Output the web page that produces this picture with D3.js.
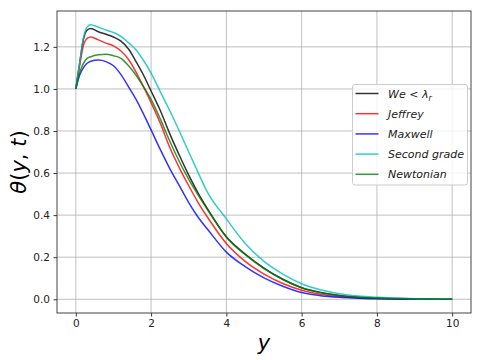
<!DOCTYPE html>
<html>
<head>
<meta charset="utf-8">
<script src="https://cdn.jsdelivr.net/npm/d3@7"></script>
<style>
html, body { margin: 0; padding: 0; background: #fff; }
svg { display: block; font-family: "DejaVu Sans", sans-serif; }
</style>
</head>
<body>
<svg id="chart" width="480" height="360"></svg>
<script>
const yValues     = [0, 0.1, 0.2, 0.3, 0.4, 0.6, 0.8, 1.0, 1.2, 1.4, 1.6, 1.8, 2.0, 2.25, 2.5, 2.75, 3.0, 3.25, 3.5, 4.0, 4.5, 5.0, 5.5, 6.0, 6.5, 7.0, 7.5, 8.0, 9.0, 10.0];
const weLambda    = [1.0, 1.12, 1.235, 1.28, 1.287, 1.272, 1.26, 1.247, 1.227, 1.19, 1.13, 1.065, 0.99, 0.895, 0.785, 0.685, 0.59, 0.505, 0.43, 0.297, 0.215, 0.148, 0.095, 0.055, 0.032, 0.018, 0.010, 0.006, 0.002, 0.0];
const jeffrey     = [1.0, 1.11, 1.205, 1.24, 1.247, 1.233, 1.218, 1.205, 1.18, 1.14, 1.08, 1.01, 0.935, 0.835, 0.72, 0.625, 0.54, 0.46, 0.39, 0.265, 0.18, 0.12, 0.075, 0.043, 0.024, 0.013, 0.007, 0.004, 0.001, 0.0];
const maxwell     = [1.0, 1.065, 1.1, 1.122, 1.132, 1.137, 1.13, 1.11, 1.068, 1.01, 0.95, 0.88, 0.805, 0.71, 0.62, 0.54, 0.46, 0.39, 0.333, 0.224, 0.155, 0.102, 0.062, 0.032, 0.017, 0.009, 0.005, 0.002, 0.0, 0.0];
const secondGrade = [1.0, 1.12, 1.24, 1.295, 1.305, 1.293, 1.28, 1.268, 1.25, 1.22, 1.185, 1.135, 1.075, 0.985, 0.895, 0.80, 0.70, 0.602, 0.508, 0.382, 0.265, 0.18, 0.12, 0.074, 0.045, 0.026, 0.015, 0.009, 0.003, 0.001];
const newtonian   = [1.0, 1.075, 1.12, 1.145, 1.153, 1.162, 1.165, 1.158, 1.145, 1.11, 1.065, 1.01, 0.95, 0.855, 0.75, 0.655, 0.57, 0.495, 0.425, 0.295, 0.212, 0.146, 0.094, 0.055, 0.032, 0.018, 0.010, 0.006, 0.002, 0.0];

const seriesNames = ["We<λr", "Jeffrey", "Maxwell", "Second grade", "Newtonian"];
const seriesColors = ["#000000", "#ff0000", "#0000ff", "#00bfbf", "#008000"];
const seriesValues = [weLambda, jeffrey, maxwell, secondGrade, newtonian];

const xTicks = [0, 2, 4, 6, 8, 10];
const yTicks = [0.0, 0.2, 0.4, 0.6, 0.8, 1.0, 1.2];

const svg = d3.select("#chart");
const margin = {left: 57, right: 9, top: 11, bottom: 47};
const W = 480, H = 360;
const x = d3.scaleLinear().domain([-0.5, 10.5]).range([margin.left, W - margin.right]);
const y = d3.scaleLinear().domain([-0.0653, 1.3705]).range([H - margin.bottom, margin.top]);

// grid
const g = svg.append("g");
g.selectAll("line.gx").data(xTicks).enter().append("line")
  .attr("x1", d => x(d)).attr("x2", d => x(d))
  .attr("y1", margin.top).attr("y2", H - margin.bottom)
  .attr("stroke", "#b0b0b0").attr("stroke-width", 0.8);
g.selectAll("line.gy").data(yTicks).enter().append("line")
  .attr("y1", d => y(d)).attr("y2", d => y(d))
  .attr("x1", margin.left).attr("x2", W - margin.right)
  .attr("stroke", "#b0b0b0").attr("stroke-width", 0.8);

// lines
const line = d3.line().x((d, i) => x(yValues[i])).y(d => y(d)).curve(d3.curveMonotoneX);
seriesValues.forEach((vals, k) => {
  svg.append("path").datum(vals)
    .attr("d", line)
    .attr("fill", "none")
    .attr("stroke", seriesColors[k])
    .attr("stroke-width", 1.5)
    .attr("stroke-opacity", 0.8);
});

// axes
const xAxis = d3.axisBottom(x).tickValues(xTicks).tickFormat(d3.format("d")).tickSize(3.5).tickPadding(3.5);
const yAxis = d3.axisLeft(y).tickValues(yTicks).tickFormat(d3.format(".1f")).tickSize(3.5).tickPadding(3.5);
const ax = svg.append("g").attr("transform", `translate(0,${H - margin.bottom})`).call(xAxis);
const ay = svg.append("g").attr("transform", `translate(${margin.left},0)`).call(yAxis);
[ax, ay].forEach(a => {
  a.select(".domain").remove();
  a.selectAll(".tick line").attr("stroke", "#333");
  a.selectAll(".tick text").attr("fill", "#222").style("font-size", "10.5px").style("font-family", "DejaVu Sans");
});

// frame
svg.append("rect")
  .attr("x", margin.left).attr("y", margin.top)
  .attr("width", W - margin.left - margin.right)
  .attr("height", H - margin.top - margin.bottom)
  .attr("fill", "none").attr("stroke", "#444").attr("stroke-width", 1);

// axis labels
svg.append("text")
  .attr("x", x(5)).attr("y", 350)
  .attr("text-anchor", "middle")
  .style("font-size", "21px").style("font-style", "italic")
  .text("y");
svg.append("text")
  .attr("transform", `translate(26,${(margin.top + H - margin.bottom) / 2}) rotate(-90)`)
  .attr("text-anchor", "middle")
  .style("font-size", "21px")
  .html('<tspan font-style="italic">θ</tspan>(<tspan font-style="italic">y</tspan>, <tspan font-style="italic">t</tspan>)');

// legend
const lg = svg.append("g");
lg.append("rect")
  .attr("x", 352.5).attr("y", 84.5).attr("width", 115).attr("height", 100.5)
  .attr("rx", 2.5).attr("fill", "#fff").attr("fill-opacity", 0.8)
  .attr("stroke", "#cccccc").attr("stroke-width", 1);
seriesNames.forEach((name, i) => {
  const cy = 93.5 + i * 20.2;
  lg.append("line").attr("x1", 355.5).attr("x2", 378.5).attr("y1", cy).attr("y2", cy)
    .attr("stroke", seriesColors[i]).attr("stroke-width", 1.5).attr("stroke-opacity", 0.8);
  const t = lg.append("text").attr("x", 388).attr("y", cy + 4)
    .style("font-size", "11px").style("font-style", "italic").attr("fill", "#222");
  if (i === 0) {
    t.append("tspan").text("We");
    t.append("tspan").style("font-style", "normal").text(" < ");
    t.append("tspan").text("λ");
    t.append("tspan").attr("dy", 3).style("font-size", "8px").text("r");
  } else {
    t.text(name);
  }
});
</script>
</body>
</html>
